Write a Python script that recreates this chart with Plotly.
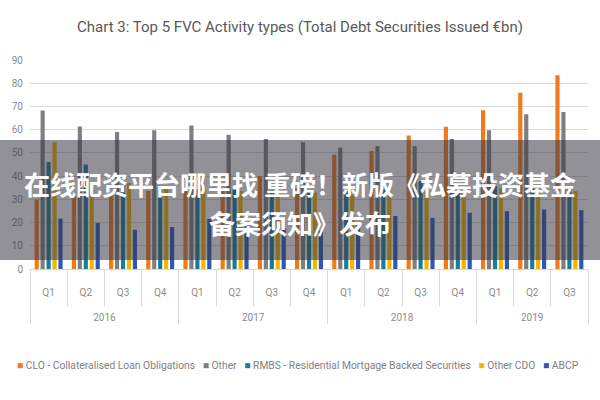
import plotly.graph_objects as go

years = ["2016"] * 4 + ["2017"] * 4 + ["2018"] * 4 + ["2019"] * 3
quarters = ["Q1", "Q2", "Q3", "Q4"] * 3 + ["Q1", "Q2", "Q3"]

series_names = [
    "CLO - Collateralised Loan Obligations",
    "Other",
    "RMBS - Residential Mortgage Backed Securities",
    "Other CDO",
    "ABCP",
]
clo = [29.9, 31.4, 32.5, 33.6, 34.3, 35.0, 40.0, 35.0, 49.3, 50.8, 57.5, 61.3, 68.4, 75.9, 83.4]
other = [68.3, 61.4, 59.0, 59.7, 61.8, 57.8, 56.0, 54.6, 52.2, 52.9, 52.9, 56.0, 59.8, 66.6, 67.6]
rmbs = [46.0, 45.0, 36.0, 35.5, 34.5, 34.0, 34.0, 34.0, 33.5, 34.3, 37.8, 34.0, 35.7, 35.5, 35.5]
other_cdo = [54.6, 35.0, 37.0, 35.0, 35.0, 33.6, 31.4, 32.9, 32.0, 32.8, 33.5, 33.5, 35.0, 33.5, 33.5]
abcp = [21.7, 19.8, 16.9, 18.1, 21.5, 20.0, 17.5, 16.5, 19.2, 22.8, 22.0, 24.2, 24.9, 25.6, 25.3]
colors = ["#F27A1A", "#7F7F7F", "#1B7C98", "#F5B400", "#2F57B5"]

title_text = "Chart 3: Top 5 FVC Activity types (Total Debt Securities Issued €bn)"
banner_line1 = "在线配资平台哪里找 重磅！新版《私募投资基金"
banner_line2 = "备案须知》发布"

FONT = "Roboto, Open Sans, sans-serif"

# year labels get empty leading lines so they sit lower, below the quarter labels
year_labels = ["<br><br>" + y for y in years]

fig = go.Figure()
for name, vals, col in zip(series_names, [clo, other, rmbs, other_cdo, abcp], colors):
    fig.add_trace(go.Bar(x=[year_labels, quarters], y=vals, name=name, marker_color=col,
                         marker_line_width=0, showlegend=False))

fig.update_layout(
    width=600, height=400,
    margin=dict(l=30, r=12, t=60, b=131),
    paper_bgcolor="white", plot_bgcolor="white",
    barmode="group", bargap=0.2, bargroupgap=0.3,
    font=dict(family=FONT, color="#8C8C8C", size=10),
    title=dict(text=title_text, x=0.5, xanchor="center", y=0.932, yanchor="middle",
               font=dict(family=FONT, size=15, color="#595959")),
)
fig.update_yaxes(range=[0, 90], dtick=10, showgrid=True, gridcolor="#D9D9D9", gridwidth=1,
                 zeroline=False, showline=False, ticks="", ticklabelstandoff=6,
                 tickfont=dict(size=10, color="#8C8C8C"))
fig.update_xaxes(type="multicategory", showgrid=False, showline=True, linecolor="#D9D9D9",
                 ticks="outside", tickson="boundaries", ticklen=36, tickcolor="#D9D9D9",
                 ticklabelstandoff=14,
                 showdividers=True, dividercolor="#D9D9D9", dividerwidth=1,
                 tickfont=dict(size=10, color="#8C8C8C"))

# legend row built from the series names and colours
legend_text = "&nbsp;&nbsp;&nbsp;".join(
    f"<span style='color:{c}'>■</span>&nbsp;{n}" for n, c in zip(series_names, colors))
fig.add_annotation(text=legend_text, xref="paper", yref="paper", x=0.481, y=(269 - 365) / 209,
                   xanchor="center", yanchor="middle", showarrow=False,
                   font=dict(family=FONT, size=10.3, color="#7F7F7F"))

# semi-transparent banner overlay with text
fig.add_shape(type="rect", xref="paper", yref="paper",
              x0=-30 / 558, x1=1 + 12 / 558, y0=(269 - 260) / 209, y1=(269 - 140) / 209,
              fillcolor="rgba(55,55,65,0.55)", line_width=0, layer="above")
for line, xpix, ypix in [(banner_line1, 300, 183), (banner_line2, 300, 222)]:
    fig.add_annotation(text=line, xref="paper", yref="paper",
                       x=(xpix - 30) / 558, y=(269 - ypix) / 209, xanchor="center", yanchor="middle",
                       showarrow=False,
                       font=dict(family="Noto Sans CJK SC", size=26, color="white", weight="bold"))

fig.write_html("out.html")
